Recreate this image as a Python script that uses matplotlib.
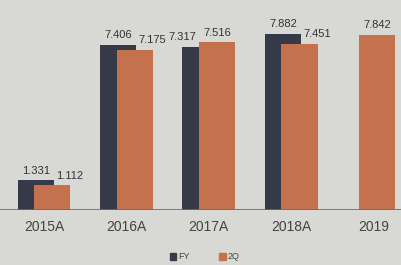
import numpy as np
import matplotlib.pyplot as plt

# dati
anni = ["2015A", "2016A", "2017A", "2018A", "2019"]
fy = [1.331, 7.406, 7.317, 7.882, None]
q2 = [1.112, 7.175, 7.516, 7.451, 7.842]
fy_lab = ["1.331", "7.406", "7.317", "7.882", ""]
q2_lab = ["1.112", "7.175", "7.516", "7.451", "7.842"]

sfondo = "#d8d8d4"
blu = "#363a48"
arancio = "#c4714e"
font = "Liberation Sans"

fig = plt.figure(figsize=(4.01, 2.65), dpi=100, facecolor=sfondo)
ax = fig.add_axes([0, 55 / 265, 1, 210 / 265], facecolor=sfondo)

x = np.arange(len(anni))
w = 0.44
for i in x:
    if fy[i] is not None:
        ax.bar(i - 0.1, fy[i], w, color=blu, zorder=2)
        # se la barra FY e' piu' bassa l'etichetta va a sinistra
        dxf = -0.22 if fy[i] < q2[i] else 0
        ax.text(i - 0.1 + dxf, fy[i] + 0.2, fy_lab[i], ha="center", va="bottom",
                fontsize=8, color="#333333", family=font)
        xq = i + 0.1
    else:
        xq = i + 0.04
    ax.bar(xq, q2[i], w, color=arancio, zorder=3)
    dx = 0.21 if (fy[i] is not None and fy[i] > q2[i]) else 0
    ax.text(xq + dx, q2[i] + 0.2, q2_lab[i], ha="center", va="bottom",
            fontsize=8, color="#333333", family=font, zorder=4)

ax.axhline(0, color="#9a5a40", lw=1.2, zorder=5)
ax.set_xlim(-0.533, 4.33)
ax.set_ylim(0, 9.4)
for s in ax.spines.values():
    s.set_visible(False)
ax.set_yticks([])
ax.set_xticks(x)
ax.set_xticklabels(anni, fontsize=10, color="#444444", family=font)
ax.tick_params(axis="x", length=0, pad=7)

# legenda
fig.patches.append(plt.Rectangle((170 / 401, 5 / 265), 6 / 401, 7 / 265,
                                 transform=fig.transFigure, color=blu))
fig.text(178 / 401, 8.5 / 265, "FY", fontsize=6.5, va="center", color="#444444", family=font)
fig.patches.append(plt.Rectangle((219 / 401, 5 / 265), 7 / 401, 7 / 265,
                                 transform=fig.transFigure, color=arancio))
fig.text(228 / 401, 8.5 / 265, "2Q", fontsize=6.5, va="center", color="#444444", family=font)

fig.savefig("out.png", dpi=100, facecolor=sfondo)
